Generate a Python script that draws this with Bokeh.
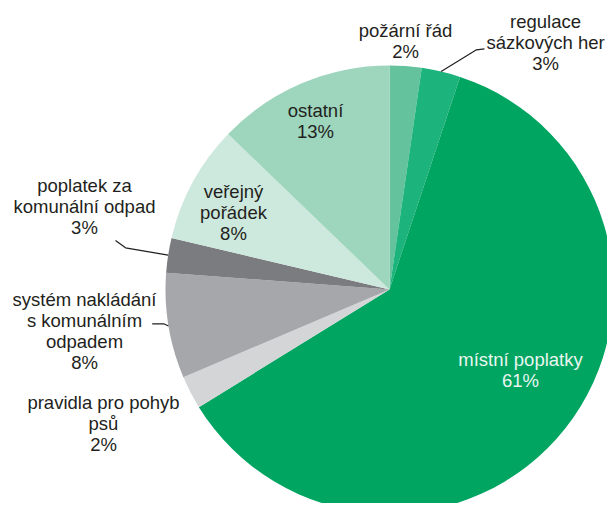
import math
from bokeh.plotting import figure
from bokeh.models import Range1d, ColumnDataSource
from bokeh.core.properties import value
from bokeh.embed import file_html
from bokeh.resources import INLINE

# Data (clockwise from 12 o'clock)
categories = ["požární řád", "regulace sázkových her", "místní poplatky",
              "pravidla pro pohyb psů", "systém nakládání s komunálním odpadem",
              "poplatek za komunální odpad", "veřejný pořádek", "ostatní"]
shares = [2.3, 2.8, 61.1, 2.4, 7.6, 2.5, 8.5, 12.8]
pct_labels = ["2%", "3%", "61%", "2%", "8%", "3%", "8%", "13%"]
label_texts = ["požární řád", "regulace\nsázkových her", "místní poplatky",
               "pravidla pro pohyb\npsů", "systém nakládání\ns komunálním\nodpadem",
               "poplatek za\nkomunální odpad", "veřejný\npořádek", "ostatní"]
colors = ["#64c39c", "#1cb37d", "#00a562", "#d4d5d7", "#a6a7aa", "#7b7c80", "#cde8dc", "#9dd5bd"]

# Layout (page coordinates, y downward -> negated)
cx, cy, r = 389, 289, 224
label_pos = [(405, 40), (545, 41.5), (520, 369.5), (103, 422.5),
             (84, 330.5), (84, 206), (233, 212), (315, 120)]
label_colors = ["#231f20"] * 8
label_colors[2] = "#eaf6ef"

p = figure(width=607, height=503, output_backend="svg", toolbar_location=None,
           x_range=Range1d(0, 607), y_range=Range1d(-503, 0),
           min_border=0, outline_line_color=None)
p.axis.visible = False
p.grid.visible = False
p.background_fill_color = "white"

total = sum(shares)
starts, ends, mids = [], [], []
cum = 0.0
for s in shares:
    a0 = math.pi / 2 - 2 * math.pi * cum / total
    cum += s
    a1 = math.pi / 2 - 2 * math.pi * cum / total
    starts.append(a0)
    ends.append(a1)
    mids.append((a0 + a1) / 2)

src = ColumnDataSource(dict(start=starts, end=ends, color=colors))
p.wedge(x=cx, y=-cy, radius=r, start_angle="start", end_angle="end",
        direction="clock", fill_color="color", line_color=None, source=src)

# leader lines (from slice mid-angle on edge to label)
def edge(i):
    return cx + r * math.cos(mids[i]), -cy + r * math.sin(mids[i])

leaders = {1: [(476, 49.3), (484, 48.3)],
           5: [(125, 247.3), (115, 240)],
           4: [(163.3, 323.3), (151.7, 323.3)]}
for i, pts in leaders.items():
    ex, ey = edge(i)
    xs = [ex] + [q[0] for q in pts]
    ys = [ey] + [-q[1] for q in pts]
    p.line(xs, ys, line_color="#231f20", line_width=1.2)

texts = [t + "\n" + pc for t, pc in zip(label_texts, pct_labels)]
tsrc = ColumnDataSource(dict(x=[q[0] for q in label_pos], y=[-q[1] for q in label_pos],
                             text=texts, color=label_colors))
p.text(x="x", y="y", text="text", source=tsrc, text_align="center", text_baseline="middle",
       text_font=value("Liberation Sans"), text_font_size="18.5px", text_color="color",
       text_line_height=1.0)

open("out.html", "w").write(file_html(p, INLINE))
